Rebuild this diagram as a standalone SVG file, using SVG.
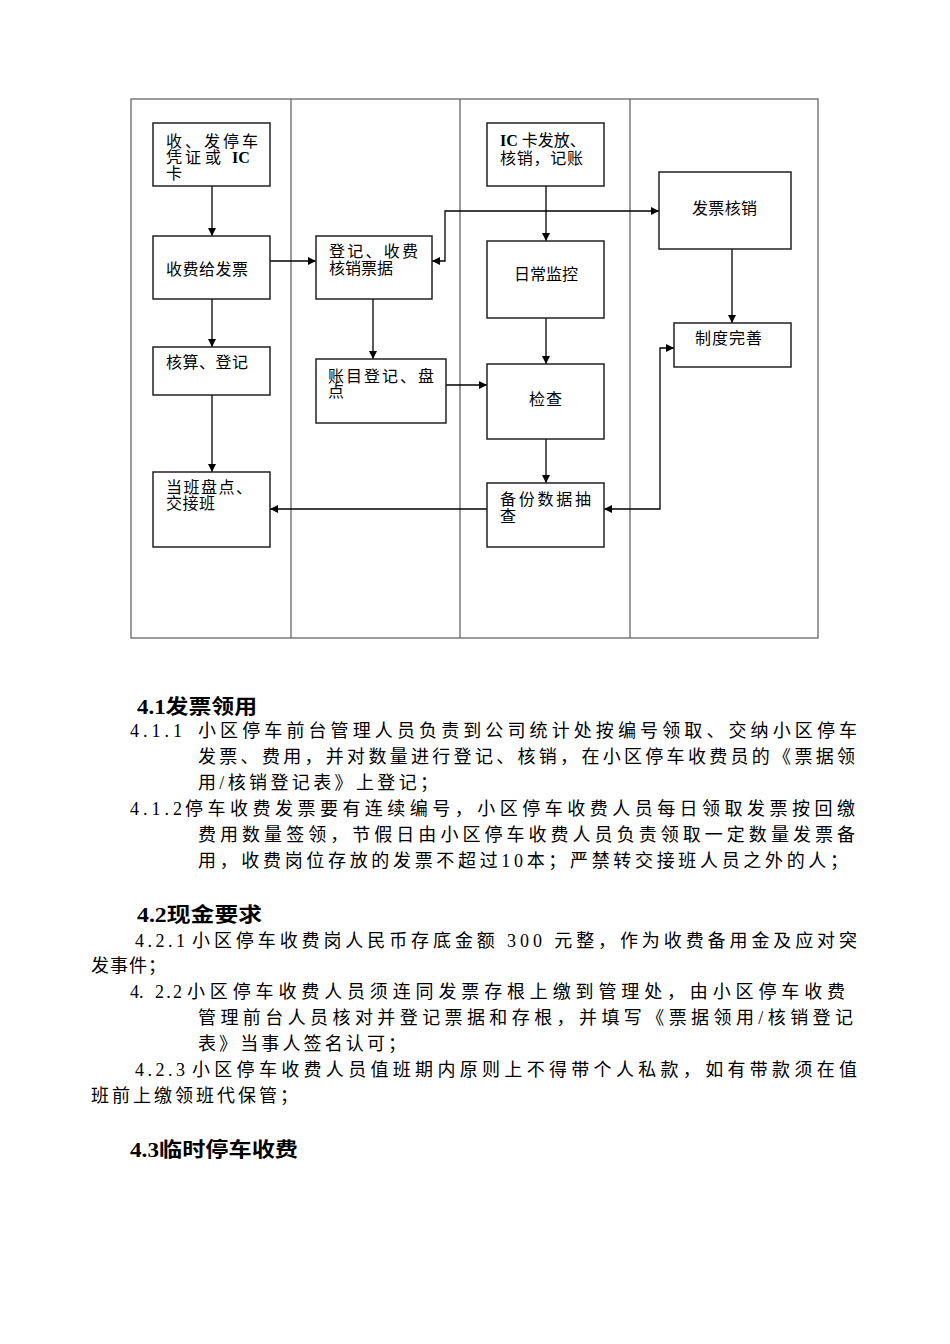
<svg xmlns="http://www.w3.org/2000/svg" width="950" height="1344" viewBox="0 0 950 1344">
<style>
.lane{fill:none;stroke:#666;stroke-width:1.3}
.box{fill:#fff;stroke:#222;stroke-width:1.5}
.bt{font-family:"Liberation Serif","Noto Sans CJK SC",sans-serif;font-size:16px;fill:#000}
.con{fill:none;stroke:#000;stroke-width:1.3}
.body{font-family:"Liberation Serif","Noto Sans CJK SC",sans-serif;font-size:18px;fill:#000}
.head{font-family:"Liberation Serif","Noto Sans CJK SC",sans-serif;font-size:20px;font-weight:bold;fill:#000}
</style>
<defs>
<marker id="arr" markerUnits="userSpaceOnUse" viewBox="0 0 10 10" markerWidth="8" markerHeight="9" refX="10" refY="5" orient="auto-start-reverse">
<path d="M0,0 L10,5 L0,10 z" fill="#000"/>
</marker>
</defs>
<rect width="950" height="1344" fill="#fff"/>
<g id="lanes">
<rect class="lane" x="131" y="99" width="687" height="539"/>
<line class="lane" x1="291" y1="99" x2="291" y2="638"/>
<line class="lane" x1="460" y1="99" x2="460" y2="638"/>
<line class="lane" x1="630" y1="99" x2="630" y2="638"/>
</g>
<g id="connectors">
<path class="con" d="M212,186 L212,236" marker-end="url(#arr)"/>
<path class="con" d="M270,261 L316,261" marker-end="url(#arr)"/>
<path class="con" d="M432,261 L445,261 L445,211 L659,211" marker-start="url(#arr)" marker-end="url(#arr)"/>
<path class="con" d="M546,186 L546,241" marker-end="url(#arr)"/>
<path class="con" d="M373,299 L373,359" marker-end="url(#arr)"/>
<path class="con" d="M212,299 L212,347" marker-end="url(#arr)"/>
<path class="con" d="M212,395 L212,472" marker-end="url(#arr)"/>
<path class="con" d="M732,249 L732,323" marker-end="url(#arr)"/>
<path class="con" d="M446,385 L487,385" marker-end="url(#arr)"/>
<path class="con" d="M546,318 L546,364" marker-end="url(#arr)"/>
<path class="con" d="M546,439 L546,483" marker-end="url(#arr)"/>
<path class="con" d="M487,509 L270,509" marker-end="url(#arr)"/>
<path class="con" d="M674,348 L660,348 L660,509 L604,509" marker-start="url(#arr)" marker-end="url(#arr)"/>
</g>
<g id="n_shoufa">
<rect class="box" x="153" y="123" width="117" height="63"/>
<text class="bt" x="166" y="147" textLength="92" lengthAdjust="spacing">收、发停车</text>
<text class="bt" y="163"><tspan x="166">凭</tspan><tspan x="185">证</tspan><tspan x="205">或</tspan><tspan x="232" font-weight="bold">IC</tspan></text>
<text class="bt" x="166" y="179">卡</text>
</g>
<g id="n_shoufei">
<rect class="box" x="153" y="236" width="117" height="63"/>
<text class="bt" x="166" y="275" textLength="82" lengthAdjust="spacing">收费给发票</text>
</g>
<g id="n_dengji">
<rect class="box" x="316" y="236" width="116" height="63"/>
<text class="bt" x="329" y="257" textLength="89" lengthAdjust="spacing">登记、收费</text>
<text class="bt" x="329" y="274" textLength="64" lengthAdjust="spacing">核销票据</text>
</g>
<g id="n_ic">
<rect class="box" x="487" y="123" width="117" height="63"/>
<text class="bt" x="500" y="146"><tspan font-weight="bold">IC</tspan> 卡发放、</text>
<text class="bt" x="500" y="164" textLength="83" lengthAdjust="spacing">核销，记账</text>
</g>
<g id="n_fapiao">
<rect class="box" x="659" y="172" width="132" height="77"/>
<text class="bt" x="692" y="214" textLength="65" lengthAdjust="spacing">发票核销</text>
</g>
<g id="n_richang">
<rect class="box" x="487" y="241" width="117" height="77"/>
<text class="bt" x="514" y="280" textLength="64" lengthAdjust="spacing">日常监控</text>
</g>
<g id="n_hesuan">
<rect class="box" x="153" y="347" width="117" height="48"/>
<text class="bt" x="166" y="368" textLength="82" lengthAdjust="spacing">核算、登记</text>
</g>
<g id="n_zhangmu">
<rect class="box" x="316" y="359" width="130" height="64"/>
<text class="bt" x="328" y="382" textLength="106" lengthAdjust="spacing">账目登记、盘</text>
<text class="bt" x="328" y="397">点</text>
</g>
<g id="n_zhidu">
<rect class="box" x="674" y="323" width="117" height="44"/>
<text class="bt" x="695" y="344" textLength="67" lengthAdjust="spacing">制度完善</text>
</g>
<g id="n_jiancha">
<rect class="box" x="487" y="364" width="117" height="75"/>
<text class="bt" x="529" y="405" textLength="33" lengthAdjust="spacing">检查</text>
</g>
<g id="n_dangban">
<rect class="box" x="153" y="472" width="117" height="75"/>
<text class="bt" x="166" y="493" textLength="86" lengthAdjust="spacing">当班盘点、</text>
<text class="bt" x="166" y="509" textLength="49" lengthAdjust="spacing">交接班</text>
</g>
<g id="n_beifen">
<rect class="box" x="487" y="483" width="117" height="64"/>
<text class="bt" x="500" y="505" textLength="91" lengthAdjust="spacing">备份数据抽</text>
<text class="bt" x="500" y="522">查</text>
</g>
<g id="body">
<text class="head" x="137" y="714" textLength="120" lengthAdjust="spacingAndGlyphs">4.1发票领用</text>
<text class="body" x="130" y="737" textLength="52" lengthAdjust="spacing">4.1.1</text>
<text class="body" x="198" y="737" textLength="659" lengthAdjust="spacing">小区停车前台管理人员负责到公司统计处按编号领取、交纳小区停车</text>
<text class="body" x="198" y="763" textLength="657" lengthAdjust="spacing">发票、费用，并对数量进行登记、核销，在小区停车收费员的《票据领</text>
<text class="body" x="198" y="789" textLength="240" lengthAdjust="spacing">用/核销登记表》上登记；</text>
<text class="body" x="130" y="815" textLength="52" lengthAdjust="spacing">4.1.2</text>
<text class="body" x="185" y="815" textLength="670" lengthAdjust="spacing">停车收费发票要有连续编号，小区停车收费人员每日领取发票按回缴</text>
<text class="body" x="198" y="841" textLength="657" lengthAdjust="spacing">费用数量签领，节假日由小区停车收费人员负责领取一定数量发票备</text>
<text class="body" x="198" y="867" textLength="650" lengthAdjust="spacing">用，收费岗位存放的发票不超过10本；严禁转交接班人员之外的人；</text>
<text class="head" x="137" y="922" textLength="125" lengthAdjust="spacingAndGlyphs">4.2现金要求</text>
<text class="body" x="135" y="947" textLength="50" lengthAdjust="spacing">4.2.1</text>
<text class="body" x="192" y="947" textLength="665" lengthAdjust="spacing">小区停车收费岗人民币存底金额 300 元整，作为收费备用金及应对突</text>
<text class="body" x="91" y="972" textLength="75" lengthAdjust="spacing">发事件；</text>
<text class="body" x="130" y="998">4.</text>
<text class="body" x="155" y="998" textLength="27" lengthAdjust="spacing">2.2</text>
<text class="body" x="187" y="998" textLength="658" lengthAdjust="spacing">小区停车收费人员须连同发票存根上缴到管理处，由小区停车收费</text>
<text class="body" x="198" y="1024" textLength="655" lengthAdjust="spacing">管理前台人员核对并登记票据和存根，并填写《票据领用/核销登记</text>
<text class="body" x="198" y="1050" textLength="208" lengthAdjust="spacing">表》当事人签名认可；</text>
<text class="body" x="135" y="1076" textLength="50" lengthAdjust="spacing">4.2.3</text>
<text class="body" x="192" y="1076" textLength="665" lengthAdjust="spacing">小区停车收费人员值班期内原则上不得带个人私款，如有带款须在值</text>
<text class="body" x="91" y="1102" textLength="207" lengthAdjust="spacing">班前上缴领班代保管；</text>
<text class="head" x="130" y="1157" textLength="168" lengthAdjust="spacingAndGlyphs">4.3临时停车收费</text>
</g>
</svg>
